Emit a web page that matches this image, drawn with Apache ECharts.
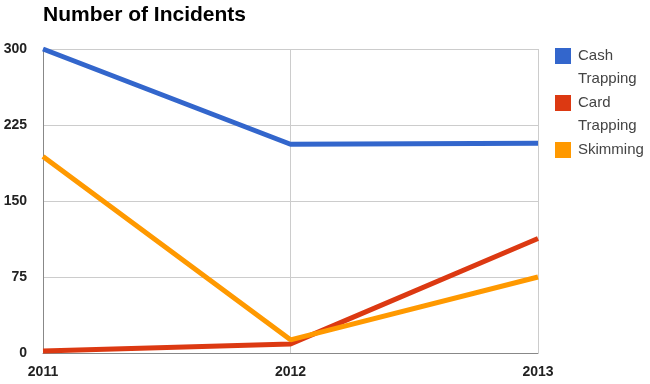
<!DOCTYPE html>
<html><head><meta charset="utf-8">
<script src="https://cdn.jsdelivr.net/npm/echarts@6/dist/echarts.min.js"></script>
<style>html,body{margin:0;padding:0;background:#fff}#c{width:650px;height:384px}</style>
</head><body><div id="c"></div>
<script>
var categories = ['2011', '2012', '2013'];
var cashTrapping = [300, 206, 207];
var cardTrapping = [2, 9, 113];
var skimming = [194, 13, 75];
var yTicks = [0, 75, 150, 225, 300];

var chart = echarts.init(document.getElementById('c'), null, {renderer: 'canvas'});
var font = 'Arial, "Liberation Sans", sans-serif';
function legendFor(name, top, twoLine) {
  return {
    orient: 'vertical', left: 555, top: top, padding: 0,
    data: [name], itemWidth: 16, itemHeight: 16, itemGap: 0,
    icon: 'rect',
    formatter: function (n) { return twoLine ? '\u00a0\n' + n.replace(' ', '\n') : n; },
    textStyle: {fontFamily: font, fontSize: 15, color: '#444', lineHeight: 23,
      padding: [0, 0, 0, 2]},
    itemStyle: {borderWidth: 0}
  };
}
chart.setOption({
  animation: false,
  title: {text: 'Number of Incidents', left: 38, top: 0,
    textStyle: {fontFamily: font, fontSize: 21, fontWeight: 'bold', color: '#000'}},
  legend: [
    legendFor('Cash Trapping', 21.5, true),
    legendFor('Card Trapping', 68.5, true),
    legendFor('Skimming', 138.5, false)
  ],
  grid: {left: 43, right: 112, top: 49, bottom: 31, containLabel: false},
  xAxis: {
    type: 'category', data: categories, boundaryGap: false,
    axisLine: {lineStyle: {color: '#888', width: 1}},
    axisTick: {show: false},
    splitLine: {show: true, lineStyle: {color: '#ccc'}},
    axisLabel: {fontFamily: font, fontSize: 14, fontWeight: 'bold', color: '#222', margin: 12}
  },
  yAxis: {
    type: 'value', min: yTicks[0], max: yTicks[yTicks.length - 1], interval: 75,
    axisLine: {show: true, lineStyle: {color: '#888', width: 1}},
    axisTick: {show: false},
    splitLine: {show: true, lineStyle: {color: '#ccc'}},
    axisLabel: {fontFamily: font, fontSize: 14, fontWeight: 'bold', color: '#222', margin: 16}
  },
  series: [
    {name: 'Cash Trapping', type: 'line', data: cashTrapping, showSymbol: false,
      lineStyle: {width: 5, color: '#3366CC'}, itemStyle: {color: '#3366CC'}},
    {name: 'Card Trapping', type: 'line', data: cardTrapping, showSymbol: false,
      lineStyle: {width: 5, color: '#DC3912'}, itemStyle: {color: '#DC3912'}},
    {name: 'Skimming', type: 'line', data: skimming, showSymbol: false,
      lineStyle: {width: 5, color: '#FF9900'}, itemStyle: {color: '#FF9900'}}
  ]
});
</script></body></html>
